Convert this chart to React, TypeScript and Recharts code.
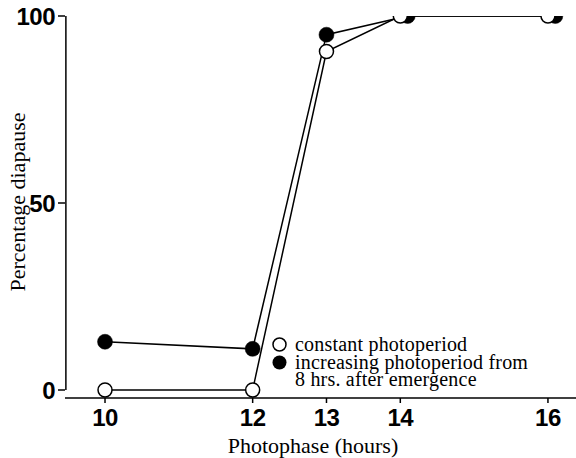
import React from 'react';
import { LineChart, Line, XAxis, YAxis, ReferenceLine } from 'recharts';

// photophase (hours) for each group
const hours = [10, 12, 13, 14, 16];
const constantPct = [0, 0, 90.5, 100, 100];
// filled points sit slightly right of the open ones at 14 and 16
const increasingHours = [10, 12, 13, 14.1, 16.1];
const increasingPct = [12.9, 11, 95, 100, 100];

const xTicks = [10, 12, 13, 14, 16];
const yTicks = [0, 50, 100];

const constantData = hours.map((h, i) => ({ x: h, y: constantPct[i] }));
const increasingData = increasingHours.map((h, i) => ({ x: h, y: increasingPct[i] }));

const serif = '"Liberation Serif", "Times New Roman", serif';
const sans = '"Liberation Sans", Arial, sans-serif';

const tickStyle = { fontSize: 24, fontWeight: 700, fontFamily: sans, fill: '#000', letterSpacing: -0.5 };

const LegendBox = () => (
  <div
    style={{
      position: 'absolute',
      left: 271,
      top: 336,
      fontFamily: serif,
      fontSize: 20,
      lineHeight: '17.5px',
      color: '#000',
      whiteSpace: 'nowrap',
      letterSpacing: 0.2,
    }}
  >
    <div style={{ display: 'flex', alignItems: 'center' }}>
      <svg width={17} height={17} style={{ marginRight: 7 }}>
        <circle cx={8.5} cy={8.5} r={6.5} fill="#fff" stroke="#000" strokeWidth={1.5} />
      </svg>
      constant photoperiod
    </div>
    <div style={{ display: 'flex', alignItems: 'center' }}>
      <svg width={17} height={17} style={{ marginRight: 7 }}>
        <circle cx={8.5} cy={8.5} r={7} fill="#000" />
      </svg>
      increasing photoperiod from
    </div>
    <div style={{ paddingLeft: 24 }}>8 hrs. after emergence</div>
  </div>
);

export default function App() {
  return (
    <div style={{ position: 'absolute', left: 0, top: 0, width: 576, height: 458, background: '#fff' }}>
      <LineChart width={576} height={458} margin={{ top: 16, right: 0, left: 5, bottom: 30 }}>
        <XAxis
          dataKey="x"
          type="number"
          domain={[9.458, 16.38]}
          ticks={xTicks}
          allowDataOverflow
          height={30}
          tick={tickStyle}
          tickSize={5}
          tickMargin={6}
          axisLine={{ stroke: '#000', strokeWidth: 1.5 }}
          tickLine={{ stroke: '#000', strokeWidth: 1.5 }}
        />
        <YAxis
          type="number"
          domain={[-2.14, 100]}
          ticks={yTicks}
          allowDataOverflow
          width={60}
          tick={tickStyle}
          tickSize={7}
          tickMargin={3}
          axisLine={false}
          tickLine={{ stroke: '#000', strokeWidth: 1.5 }}
        />
        <ReferenceLine
          segment={[{ x: 9.47, y: 0 }, { x: 9.47, y: 100 }]}
          stroke="#000"
          strokeWidth={1.5}
        />
        <Line
          data={increasingData}
          dataKey="y"
          stroke="#000"
          strokeWidth={1.5}
          dot={{ r: 7.5, fill: '#000', stroke: '#000', strokeWidth: 0.5 }}
          isAnimationActive={false}
        />
        <Line
          data={constantData}
          dataKey="y"
          stroke="#000"
          strokeWidth={1.5}
          dot={{ r: 7, fill: '#fff', stroke: '#000', strokeWidth: 1.5 }}
          isAnimationActive={false}
        />
      </LineChart>
      <LegendBox />
      <div
        style={{
          position: 'absolute',
          left: 313,
          top: 446,
          transform: 'translate(-50%, -50%)',
          fontFamily: serif,
          fontSize: 22,
          whiteSpace: 'nowrap',
          color: '#000',
        }}
      >
        Photophase (hours)
      </div>
      <div
        style={{
          position: 'absolute',
          left: 18,
          top: 202,
          transform: 'translate(-50%, -50%) rotate(-90deg)',
          fontFamily: serif,
          fontSize: 22,
          whiteSpace: 'nowrap',
          color: '#000',
        }}
      >
        Percentage diapause
      </div>
    </div>
  );
}
